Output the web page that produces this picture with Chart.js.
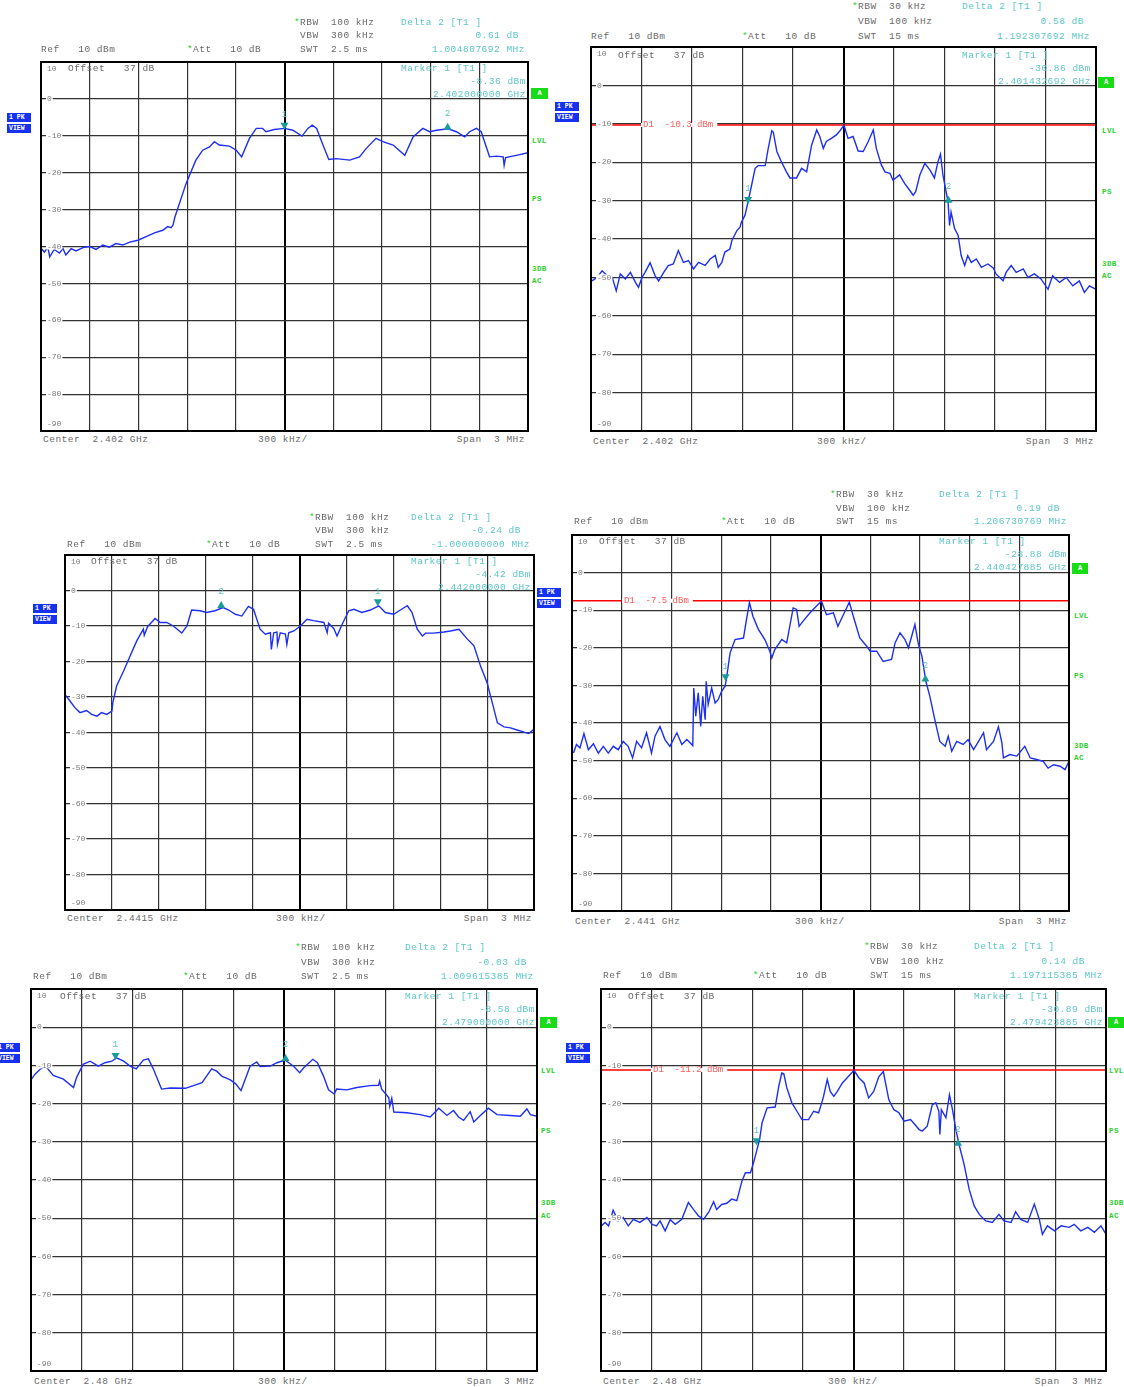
<!DOCTYPE html>
<html>
<head>
<meta charset="utf-8">
<script src="https://cdn.jsdelivr.net/npm/chart.js@4.4.1/dist/chart.umd.min.js"></script>
<style>
body{margin:0;width:1124px;height:1387px;position:relative;background:#fff;overflow:hidden;font-family:"Liberation Mono",monospace}
canvas{position:absolute}
.t{position:absolute;font-size:9.5px;letter-spacing:.5px;line-height:10px;color:#6a6a6a;white-space:pre}
.c{color:#5cc6c6}
.s{color:#2bd02b}
.g{color:#2ccf2c;font-size:7.5px;font-weight:bold;letter-spacing:.4px}
.pk{position:absolute;background:#1632f0;color:#fff;font-size:6.5px;font-weight:bold;width:22px;height:9px;line-height:9px;padding-left:2px;white-space:pre}
.a{position:absolute;background:#18dc18;color:#fff;font-size:7px;font-weight:bold;text-align:center;line-height:11px;height:11px}
</style>
</head>
<body>
<script>
// x positions are grid divisions (0..10, 300 kHz per division), levels in dBm
const p1Div = [0.00,0.07,0.14,0.18,0.27,0.38,0.45,0.51,0.62,0.72,0.86,1.00,1.13,1.27,1.40,1.54,1.68,1.82,1.99,2.16,2.33,2.50,2.60,2.67,2.71,2.75,2.98,3.18,3.32,3.46,3.56,3.66,3.87,4.01,4.12,4.28,4.42,4.55,4.62,4.79,5.00,5.17,5.36,5.48,5.57,5.66,5.79,5.91,6.06,6.34,6.54,6.68,6.88,7.02,7.23,7.47,7.64,7.84,7.98,8.12,8.36,8.53,8.70,8.80,8.94,9.04,9.21,9.35,9.49,9.51,9.54,9.76,10.0];
const p1Dbm = [-40.5,-41.5,-40.2,-42.8,-40.8,-41.8,-40.5,-42.3,-40.6,-41.2,-40.3,-40.0,-40.8,-39.6,-40.2,-39.2,-39.6,-38.8,-38.3,-37.3,-36.3,-35.6,-34.6,-34.9,-34.2,-32.0,-22.9,-16.6,-13.9,-13.0,-11.6,-12.5,-12.8,-13.9,-15.7,-10.7,-8.0,-8.0,-8.9,-8.3,-8.0,-8.5,-10.1,-8.0,-7.1,-8.0,-12.5,-16.4,-16.2,-16.6,-15.7,-13.4,-10.7,-11.6,-12.5,-15.3,-10.3,-8.0,-8.9,-8.5,-8.1,-8.9,-10.3,-8.9,-8.0,-8.9,-15.7,-15.5,-15.7,-18.0,-15.9,-15.3,-14.6];
const p1MarkDiv = [5.00, 8.35];
const p1MarkDbm = [-8.36, -8.10];

const p2Div = [0.02,0.12,0.22,0.32,0.42,0.50,0.58,0.68,0.78,0.88,0.94,1.01,1.07,1.17,1.27,1.34,1.44,1.53,1.63,1.73,1.83,1.93,2.03,2.13,2.26,2.36,2.46,2.52,2.59,2.65,2.75,2.79,2.89,2.95,2.98,3.05,3.12,3.18,3.25,3.31,3.45,3.51,3.58,3.61,3.68,3.77,3.87,3.94,4.07,4.17,4.27,4.37,4.47,4.53,4.60,4.66,4.76,4.86,4.93,5.01,5.09,5.19,5.29,5.39,5.49,5.59,5.65,5.75,5.82,5.92,5.98,6.11,6.21,6.31,6.38,6.43,6.51,6.61,6.71,6.80,6.87,6.92,6.97,7.02,7.07,7.10,7.13,7.20,7.27,7.33,7.40,7.46,7.53,7.63,7.73,7.86,7.97,8.02,8.16,8.22,8.32,8.42,8.56,8.65,8.78,8.91,9.05,9.14,9.28,9.41,9.54,9.67,9.77,9.87,10.0];
const p2Dbm = [-50.9,-50.0,-48.3,-49.6,-50.0,-53.5,-49.1,-50.4,-48.7,-51.3,-52.6,-50.0,-48.7,-46.2,-49.6,-50.9,-48.7,-46.9,-46.5,-43.0,-46.1,-45.6,-47.8,-46.1,-46.9,-45.2,-44.3,-47.4,-46.1,-43.4,-42.6,-40.4,-37.8,-36.9,-35.6,-33.8,-29.7,-26.0,-21.6,-20.9,-20.9,-16.4,-11.8,-12.2,-17.2,-19.9,-22.5,-24.1,-24.1,-21.6,-22.5,-15.5,-11.6,-13.3,-16.4,-14.6,-13.8,-12.9,-11.8,-10.4,-13.8,-13.3,-17.1,-17.2,-14.6,-11.6,-16.4,-20.7,-22.5,-22.9,-24.7,-23.3,-25.5,-27.3,-28.6,-27.7,-23.4,-20.3,-22.0,-24.1,-19.9,-17.9,-23.4,-26.9,-30.3,-36.5,-33.0,-37.3,-39.1,-44.3,-46.9,-44.3,-46.1,-45.2,-47.4,-46.5,-47.6,-49.1,-50.9,-48.7,-46.9,-48.7,-47.8,-50.0,-49.1,-50.4,-53.1,-49.6,-51.3,-50.0,-52.2,-50.9,-53.9,-52.2,-53.1];
const p2MarkDiv = [3.11, 7.08];
const p2MarkDbm = [-30.86, -30.28];
const p2Line = -10.3;

const p3Div = [0.02,0.11,0.21,0.32,0.46,0.57,0.68,0.78,0.89,1.00,1.02,1.10,1.25,1.39,1.53,1.67,1.69,1.76,1.92,2.03,2.17,2.31,2.49,2.60,2.70,2.88,3.02,3.20,3.37,3.49,3.63,3.77,3.91,4.02,4.16,4.27,4.38,4.40,4.45,4.52,4.53,4.59,4.70,4.73,4.77,4.88,5.02,5.16,5.30,5.52,5.59,5.62,5.73,5.80,5.91,6.05,6.16,6.33,6.51,6.69,6.83,7.01,7.15,7.30,7.40,7.51,7.62,7.69,7.86,8.08,8.22,8.40,8.58,8.72,8.86,9.00,9.11,9.22,9.36,9.50,9.64,9.79,9.89,9.99];
const p3Dbm = [-29.6,-31.2,-33.0,-34.4,-33.8,-34.9,-35.4,-34.4,-34.9,-34.0,-31.6,-26.9,-22.7,-18.4,-14.2,-10.9,-12.6,-10.2,-7.9,-9.0,-9.0,-10.0,-12.0,-10.0,-5.5,-5.7,-6.2,-5.7,-4.8,-5.5,-6.7,-7.2,-4.5,-5.3,-10.9,-12.3,-11.9,-16.6,-11.9,-11.7,-15.2,-11.9,-12.3,-15.2,-11.9,-11.4,-10.0,-8.1,-8.5,-9.0,-11.9,-9.2,-10.7,-12.8,-9.5,-5.7,-5.3,-6.2,-5.5,-4.3,-6.2,-6.7,-5.5,-4.3,-6.2,-10.9,-12.8,-12.0,-12.0,-11.7,-11.4,-10.9,-13.7,-15.6,-21.3,-26.0,-31.6,-37.3,-38.4,-38.7,-39.3,-39.9,-40.3,-39.2];
const p3MarkDiv = [6.67, 3.33];
const p3MarkDbm = [-4.42, -4.66];

const p4Div = [0.03,0.09,0.16,0.24,0.33,0.43,0.53,0.63,0.73,0.83,0.93,1.03,1.13,1.22,1.30,1.40,1.50,1.60,1.67,1.77,1.87,1.97,2.11,2.21,2.31,2.43,2.45,2.49,2.54,2.59,2.63,2.68,2.70,2.74,2.81,2.88,2.94,3.01,3.08,3.11,3.18,3.28,3.45,3.51,3.57,3.64,3.75,3.88,3.98,4.02,4.08,4.22,4.32,4.45,4.52,4.57,4.65,4.79,4.92,5.02,5.12,5.26,5.35,5.46,5.58,5.66,5.79,5.93,6.00,6.13,6.26,6.43,6.50,6.60,6.70,6.77,6.90,6.97,7.04,7.12,7.20,7.30,7.40,7.51,7.57,7.64,7.74,7.87,7.97,8.08,8.18,8.28,8.34,8.48,8.58,8.65,8.68,8.81,8.95,9.11,9.22,9.35,9.48,9.58,9.69,9.82,9.92,10.0];
const p4Dbm = [-48.0,-45.7,-46.6,-42.8,-47.1,-45.5,-48.0,-46.2,-48.0,-46.2,-47.1,-44.9,-46.2,-49.3,-44.9,-46.6,-42.6,-48.0,-43.5,-40.9,-44.4,-46.2,-42.6,-45.7,-44.4,-46.0,-30.7,-38.2,-32.0,-40.9,-32.9,-39.1,-28.9,-35.1,-30.7,-34.7,-33.8,-31.6,-30.2,-28.0,-21.4,-17.8,-17.4,-12.5,-8.0,-11.6,-15.1,-17.8,-20.9,-22.7,-20.5,-17.8,-18.7,-9.4,-9.8,-14.3,-12.9,-10.7,-8.9,-7.6,-11.2,-10.7,-14.3,-11.2,-7.9,-11.6,-17.4,-19.6,-20.9,-20.9,-23.6,-23.1,-18.7,-16.0,-17.8,-20.0,-13.8,-19.1,-22.2,-28.9,-32.9,-39.1,-44.9,-46.2,-43.5,-47.5,-44.9,-45.7,-44.4,-47.1,-44.9,-42.6,-47.1,-44.9,-41.0,-45.3,-49.3,-48.4,-48.8,-46.2,-49.3,-49.7,-50.2,-52.0,-51.1,-51.5,-52.4,-50.2];
const p4MarkDiv = [3.09, 7.11];
const p4MarkDbm = [-28.88, -28.69];
const p4Line = -7.5;

const p5Div = [0.01,0.08,0.18,0.28,0.34,0.44,0.64,0.84,0.90,1.03,1.17,1.33,1.46,1.60,1.69,1.83,1.96,2.08,2.22,2.32,2.42,2.58,2.75,3.05,3.21,3.38,3.47,3.57,3.67,3.77,3.94,4.05,4.15,4.33,4.46,4.53,4.73,4.86,5.02,5.19,5.31,5.39,5.57,5.66,5.78,5.88,5.99,6.04,6.24,6.44,6.70,6.87,6.89,6.93,7.07,7.09,7.13,7.17,7.43,7.69,7.89,8.06,8.22,8.35,8.45,8.55,8.68,8.75,8.88,9.04,9.21,9.47,9.67,9.80,9.87,10.0];
const p5Dbm = [-13.6,-12.3,-11.0,-10.2,-11.0,-12.6,-13.6,-15.8,-13.2,-9.7,-8.9,-10.2,-9.3,-8.9,-8.0,-8.9,-10.2,-10.9,-8.6,-8.3,-11.0,-16.2,-15.9,-16.0,-15.3,-14.5,-12.8,-10.9,-11.5,-12.8,-13.8,-14.9,-16.6,-10.2,-9.1,-10.3,-10.2,-9.3,-8.6,-10.2,-11.9,-10.6,-8.4,-9.3,-12.8,-16.4,-17.5,-16.2,-16.4,-15.8,-15.3,-15.2,-14.1,-16.2,-18.4,-20.7,-18.6,-22.2,-22.4,-22.9,-23.5,-21.2,-23.1,-21.8,-23.5,-24.4,-22.1,-24.8,-23.1,-21.2,-22.9,-23.1,-23.3,-21.4,-22.9,-23.3];
const p5MarkDiv = [1.67, 5.03];
const p5MarkDbm = [-8.58, -8.61];

const p6Div = [0.01,0.08,0.15,0.24,0.34,0.44,0.54,0.64,0.77,0.91,1.01,1.10,1.17,1.27,1.37,1.47,1.60,1.73,1.83,1.93,2.03,2.13,2.23,2.29,2.39,2.49,2.59,2.69,2.79,2.86,2.96,3.02,3.09,3.14,3.19,3.29,3.45,3.52,3.58,3.62,3.68,3.78,3.88,3.98,4.11,4.21,4.31,4.40,4.48,4.54,4.61,4.68,4.78,4.87,5.01,5.11,5.21,5.30,5.40,5.50,5.59,5.70,5.80,5.90,6.00,6.13,6.30,6.36,6.46,6.56,6.63,6.69,6.71,6.74,6.83,6.90,6.96,7.02,7.09,7.19,7.29,7.39,7.49,7.62,7.75,7.88,7.98,8.12,8.21,8.31,8.45,8.58,8.68,8.74,8.84,8.98,9.11,9.27,9.37,9.50,9.64,9.77,9.90,10.0];
const p6Dbm = [-52.0,-51.1,-52.0,-47.9,-50.7,-49.8,-52.0,-50.3,-51.1,-49.8,-51.6,-52.0,-50.7,-53.3,-50.4,-51.6,-50.3,-45.9,-47.7,-49.4,-50.3,-48.5,-45.7,-47.7,-46.4,-46.1,-45.0,-45.4,-40.3,-38.1,-38.1,-35.5,-32.0,-29.4,-25.0,-21.1,-20.9,-15.5,-12.0,-12.2,-15.9,-19.8,-22.0,-24.2,-24.2,-22.0,-22.4,-18.5,-13.7,-16.8,-18.1,-16.8,-14.6,-13.3,-11.3,-13.3,-14.6,-18.5,-16.8,-13.0,-11.6,-19.0,-21.6,-22.4,-24.6,-24.2,-26.8,-27.2,-25.9,-20.3,-19.8,-22.0,-28.1,-21.6,-23.7,-17.7,-21.6,-26.3,-30.7,-35.9,-42.4,-46.8,-49.0,-50.7,-51.1,-49.0,-50.7,-51.1,-48.3,-50.3,-51.1,-46.3,-50.3,-54.2,-52.0,-53.3,-52.0,-52.4,-51.6,-53.3,-52.4,-53.7,-52.0,-54.2];
const p6MarkDiv = [3.08, 7.07];
const p6MarkDbm = [-30.89, -30.75];
const p6Line = -11.2;

const yLabels = ["10","0","-10","-20","-30","-40","-50","-60","-70","-80","-90"];

const PAD = 3;

// screen overlay: frame, level labels, markers, display line label
const overlay = {
  id: "overlay",
  afterDatasetsDraw(chart, args, o) {
    const { ctx, chartArea: a, scales: { x, y } } = chart;
    ctx.save();
    ctx.font = '8px "Liberation Mono"';
    ctx.textBaseline = "middle";
    yLabels.forEach((lab, i) => {
      const v = 10 - i * 10;
      let py = y.getPixelForValue(v);
      if (i === 0) py = a.top + 7;
      else if (i === yLabels.length - 1) py = a.bottom - 7;
      else {
        const w = ctx.measureText(lab).width;
        ctx.fillStyle = "#fff";
        ctx.fillRect(a.left + 5, py - 3, w + 2, 6);
      }
      ctx.fillStyle = "#7a7a7a";
      ctx.fillText(lab, a.left + 6, py);
    });

    if (o.line !== null) {
      const py = y.getPixelForValue(o.line);
      const lab = "D1  " + o.line + " dBm";
      ctx.font = '9px "Liberation Mono"';
      const w = ctx.measureText(lab).width;
      ctx.fillStyle = "#fff";
      ctx.fillRect(a.left + 50, py - 2, w + 6, 4);
      ctx.fillStyle = "#ff5a5a";
      ctx.fillText(lab, a.left + 52, py);
    }

    o.markDiv.forEach((d, i) => {
      const px = x.getPixelForValue(d);
      const py = y.getPixelForValue(o.markDbm[i]);
      ctx.fillStyle = "#1a9c9c";
      ctx.beginPath();
      if (i === 0) {
        ctx.moveTo(px - 4, py - 7); ctx.lineTo(px + 4, py - 7); ctx.lineTo(px, py);
      } else {
        ctx.moveTo(px - 4, py + 1); ctx.lineTo(px + 4, py + 1); ctx.lineTo(px, py - 6);
      }
      ctx.closePath();
      ctx.fill();
      ctx.fillStyle = "#5cc6c6";
      ctx.font = '9px "Liberation Mono"';
      ctx.textAlign = "center";
      ctx.fillText(String(i + 1), px, py - 15);
      ctx.textAlign = "left";
    });

    ctx.strokeStyle = "#000";
    ctx.lineWidth = 2;
    ctx.strokeRect(a.left, a.top, a.right - a.left, a.bottom - a.top);
    ctx.restore();
  }
};

function panel(box, div, dbm, markDiv, markDbm, line) {
  const [l, t, r, b] = box;
  const w = r - l + 2 * PAD, h = b - t + 2 * PAD;
  const c = document.createElement("canvas");
  c.width = w; c.height = h;
  c.style.left = (l - PAD) + "px";
  c.style.top = (t - PAD) + "px";
  c.style.width = w + "px";
  c.style.height = h + "px";
  document.body.appendChild(c);

  const datasets = [{
    data: div.map((d, i) => ({ x: d, y: dbm[i] })),
    borderColor: "#1d2ff2",
    borderWidth: 1.4,
    pointRadius: 0,
    tension: 0
  }];
  if (line !== null) {
    datasets.push({
      data: [{ x: 0, y: line }, { x: 10, y: line }],
      borderColor: "#ff0000",
      borderWidth: 1.6,
      pointRadius: 0
    });
  }
  const isCenter = (c) => c.tick && c.tick.value === 5 && c.scale.axis === "x";
  const grid = {
    drawTicks: false,
    color: (c) => isCenter(c) ? "#000" : "#333",
    lineWidth: (c) => isCenter(c) ? 2 : 1.2
  };
  new Chart(c, {
    type: "line",
    data: { datasets },
    options: {
      responsive: false,
      animation: false,
      devicePixelRatio: 1,
      layout: { padding: PAD },
      plugins: {
        legend: { display: false },
        tooltip: { enabled: false },
        overlay: { markDiv, markDbm, line }
      },
      scales: {
        x: { type: "linear", min: 0, max: 10, ticks: { display: false, stepSize: 1 }, grid, border: { display: false } },
        y: { type: "linear", min: -90, max: 10, ticks: { display: false, stepSize: 10 }, grid, border: { display: false } }
      }
    },
    plugins: [overlay]
  });
}

function txt(s, x, y, cls, right) {
  const e = document.createElement("div");
  e.className = "t " + (cls || "");
  e.textContent = s;
  e.style.top = (y - 5) + "px";
  if (right) { e.style.left = (x - 300) + "px"; e.style.width = "300px"; e.style.textAlign = "right"; }
  else e.style.left = x + "px";
  document.body.appendChild(e);
}
function pk(x, y) {
  [["1 PK", y], ["VIEW", y + 11]].forEach(([s, yy]) => {
    const e = document.createElement("div");
    e.className = "pk"; e.textContent = s;
    e.style.left = x + "px"; e.style.top = yy + "px";
    document.body.appendChild(e);
  });
}
function abox(x, y, w) {
  const e = document.createElement("div");
  e.className = "a"; e.textContent = "A";
  e.style.left = x + "px"; e.style.top = y + "px"; e.style.width = w + "px";
  document.body.appendChild(e);
}
function side(x, ys) {
  ["LVL", "PS", "3DB", "AC"].forEach((s, i) => txt(s, x, ys[i], "g"));
}
function header(o) {
  txt("*", o.rx - 6, o.y0, "s");
  txt("RBW  " + o.rbw, o.rx, o.y0);
  txt("VBW  " + o.vbw, o.rx, o.y1);
  txt("SWT  " + o.swt, o.rx, o.y2);
  txt("Ref   10 dBm", o.refx, o.y2);
  txt("*", o.attx - 6, o.y2, "s");
  txt("Att   10 dB", o.attx, o.y2);
  txt("Delta 2 [T1 ]", o.dx, o.y0, "c");
  txt(o.ddb, o.dbr, o.y1, "c", true);
  txt(o.dhz, o.hzr, o.y2, "c", true);
  txt("Offset   37 dB", o.offx, o.oy);
  txt("Marker 1 [T1 ]", o.dx, o.oy, "c");
  txt(o.mdbm, o.mr, o.oy + 13, "c", true);
  txt(o.mhz, o.mr, o.oy + 26, "c", true);
  txt("Center  " + o.center, o.cx, o.fy);
  txt("300 kHz/", o.kx, o.fy);
  txt("Span  3 MHz", o.sr, o.fy, "", true);
}

const wide = { rbw: "100 kHz", vbw: "300 kHz", swt: "2.5 ms" };
const narrow = { rbw: "30 kHz", vbw: "100 kHz", swt: "15 ms" };

// panel 1
panel([41, 62, 528, 431], p1Div, p1Dbm, p1MarkDiv, p1MarkDbm, null);
header({ ...wide, rx: 300, y0: 23, y1: 36, y2: 50, refx: 41, attx: 193, dx: 401, ddb: "0.61 dB", dbr: 519, dhz: "1.004807692 MHz", hzr: 525,
  offx: 68, oy: 69, mdbm: "-8.36 dBm", mhz: "2.402000000 GHz", mr: 526, center: "2.402 GHz", cx: 43, kx: 258, sr: 525, fy: 440 });
abox(531, 88, 17); pk(7, 113); side(532, [141, 199, 269, 281]);

// panel 2
panel([591, 47, 1096, 431], p2Div, p2Dbm, p2MarkDiv, p2MarkDbm, p2Line);
header({ ...narrow, rx: 858, y0: 7, y1: 22, y2: 37, refx: 591, attx: 748, dx: 962, ddb: "0.58 dB", dbr: 1084, dhz: "1.192307692 MHz", hzr: 1090,
  offx: 618, oy: 56, mdbm: "-30.86 dBm", mhz: "2.401432692 GHz", mr: 1091, center: "2.402 GHz", cx: 593, kx: 817, sr: 1094, fy: 442 });
abox(1098, 77, 16); pk(555, 102); side(1102, [131, 192, 264, 276]);

// panel 3
panel([65, 555, 534, 910], p3Div, p3Dbm, p3MarkDiv, p3MarkDbm, null);
header({ ...wide, rx: 315, y0: 518, y1: 531, y2: 545, refx: 67, attx: 212, dx: 411, ddb: "-0.24 dB", dbr: 521, dhz: "-1.000000000 MHz", hzr: 530,
  offx: 91, oy: 562, mdbm: "-4.42 dBm", mhz: "2.442000000 GHz", mr: 531, center: "2.4415 GHz", cx: 67, kx: 276, sr: 532, fy: 919 });
pk(33, 604);

// panel 4
panel([572, 535, 1069, 911], p4Div, p4Dbm, p4MarkDiv, p4MarkDbm, p4Line);
header({ ...narrow, rx: 836, y0: 495, y1: 509, y2: 522, refx: 574, attx: 727, dx: 939, ddb: "0.19 dB", dbr: 1060, dhz: "1.206730769 MHz", hzr: 1067,
  offx: 599, oy: 542, mdbm: "-28.88 dBm", mhz: "2.440427885 GHz", mr: 1067, center: "2.441 GHz", cx: 575, kx: 795, sr: 1067, fy: 922 });
abox(1072, 563, 16); pk(537, 588); side(1074, [616, 676, 746, 758]);

// panel 5
panel([31, 989, 537, 1371], p5Div, p5Dbm, p5MarkDiv, p5MarkDbm, null);
header({ ...wide, rx: 301, y0: 948, y1: 963, y2: 977, refx: 33, attx: 189, dx: 405, ddb: "-0.03 dB", dbr: 527, dhz: "1.009615385 MHz", hzr: 534,
  offx: 60, oy: 997, mdbm: "-8.58 dBm", mhz: "2.479000000 GHz", mr: 535, center: "2.48 GHz", cx: 34, kx: 258, sr: 535, fy: 1382 });
abox(540, 1017, 17); pk(-4, 1043); side(541, [1071, 1131, 1203, 1216]);

// panel 6
panel([601, 989, 1106, 1371], p6Div, p6Dbm, p6MarkDiv, p6MarkDbm, p6Line);
header({ ...narrow, rx: 870, y0: 947, y1: 962, y2: 976, refx: 603, attx: 759, dx: 974, ddb: "0.14 dB", dbr: 1085, dhz: "1.197115385 MHz", hzr: 1103,
  offx: 628, oy: 997, mdbm: "-30.89 dBm", mhz: "2.479423885 GHz", mr: 1103, center: "2.48 GHz", cx: 603, kx: 828, sr: 1103, fy: 1382 });
abox(1108, 1017, 16); pk(566, 1043); side(1109, [1071, 1131, 1203, 1216]);
</script>
</body>
</html>
